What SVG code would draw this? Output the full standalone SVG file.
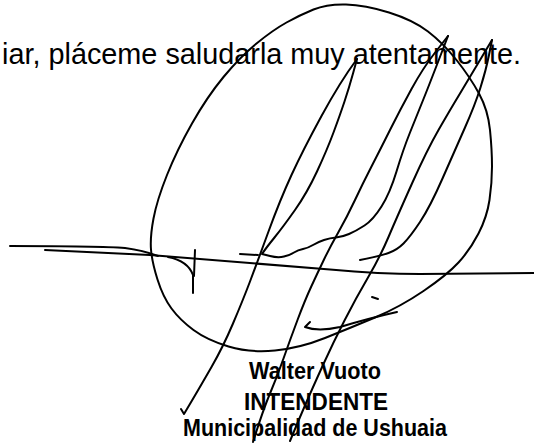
<svg xmlns="http://www.w3.org/2000/svg" width="534" height="448" viewBox="0 0 534 448">
<style>
.t{font-family:"Liberation Sans",Arial,sans-serif;fill:#000}
.s{fill:none;stroke:#000;stroke-width:2;stroke-linecap:round;stroke-linejoin:round}
.sig{font-size:23px;font-weight:bold}
</style>
<rect width="534" height="448" fill="#fff"/>
<text class="t" x="2" y="64" font-size="29" textLength="519" lengthAdjust="spacingAndGlyphs">iar, pláceme saludarla muy atentamente.</text>
<g id="rule">
<path class="s" d="M10,246 C60,246 100,246 125,248 C140,250 150,253 158,256"/>
<path class="s" d="M45,250 L150,255"/>
<path class="s" d="M150,255 L330,269.5 Q380,274 420,274 L534,273"/>
<path class="s" d="M168,257 Q188,261 193,275 L193,293"/>
<path class="s" d="M195,250 L194,276"/>
</g>
<g id="signature">
<path class="s" d="M490,130 Q488,110 479,93.5 Q470,77 456.5,60 Q443,43 428,31.5 Q413,20 389,12.5 Q365,5 346,4.5 Q327,4 313.5,9.5 Q300,15 286.5,22.5 Q273,30 256.5,43.5 Q240,57 223.5,77 Q207,97 192,123.5 Q177,150 167,175 Q157,200 153.5,218.5 Q150,237 151,249.5 Q152,262 157.5,279.5 Q163,297 171.5,308.5 Q180,320 193.5,330 Q207,340 228.5,346.5 Q250,353 275,350.5 Q300,348 325,338 Q350,328 375,317.5 Q400,307 423.5,291 Q447,275 458.5,262.5 Q470,250 478.5,233.5 Q487,217 489.5,200 Q492,183 492,166.5 Q492,150 490,130 Z"/>
<path class="s" d="M181,409 L184,414 L192,400.5 Q200,387 211.5,367 Q223,347 233,323.5 Q243,300 250,281.5 Q257,263 268.5,231.5 Q280,200 291.5,175 Q303,150 321.5,116 Q340,82 357,59"/>
<path class="s" d="M357,59 L353,73.5 Q349,88 344.5,101.5 Q340,115 333.5,132.5 Q327,150 317,171.5 Q307,193 295,210 Q283,227 274.5,237.5 Q266,248 262,254 L270,256 Q278,258 284,256.5 Q290,255 294,252.5 Q298,250 303,249 Q308,248 313,245 Q318,242 324,240 Q330,238 336,237.5 Q342,237 349,234 Q356,231 364.5,225.5 Q373,220 381.5,206.5 Q390,193 396.5,171.5 Q403,150 410,132.5 Q417,115 423.5,99 Q430,83 448,36"/>
<path class="s" d="M448,36 L435.5,52 Q423,68 411.5,89 Q400,110 390,130 Q380,150 371.5,166.5 Q363,183 355,200 Q347,217 338.5,232 Q330,247 324,259.5 Q318,272 311.5,286 Q305,300 297.5,320 Q290,340 283.5,358.5 Q277,377 270,393.5 Q263,410 253,442"/>
<path class="s" d="M240,254 L258,255"/>
<path class="s" d="M290,441 L295,429 Q300,417 306.5,402 Q313,387 323,365 Q333,343 344.5,320.5 Q356,298 368,277.5 Q380,257 388.5,237 Q397,217 412,183.5 Q427,150 438.5,130 Q450,110 460,93.5 Q470,77 492,40"/>
<path class="s" d="M492,40 L489,55 Q486,70 480.5,87.5 Q475,105 465,127.5 Q455,150 442.5,178.5 Q430,207 420,222 Q410,237 403.5,243.5 Q397,250 388.5,253 Q380,256 360,260"/>
<path class="s" d="M310,322 L305,327 Q318,332 340,327 Q370,318 397,312"/>
<path class="s" d="M372,297 L378,299"/>
</g>
<g id="name">
<text class="t sig" x="315" y="379" text-anchor="middle" textLength="132" lengthAdjust="spacingAndGlyphs">Walter Vuoto</text>
<text class="t sig" x="316" y="410" text-anchor="middle" font-size="24" textLength="144" lengthAdjust="spacingAndGlyphs">INTENDENTE</text>
<text class="t sig" x="315" y="436" text-anchor="middle" textLength="264" lengthAdjust="spacingAndGlyphs">Municipalidad de Ushuaia</text>
</g>
</svg>
